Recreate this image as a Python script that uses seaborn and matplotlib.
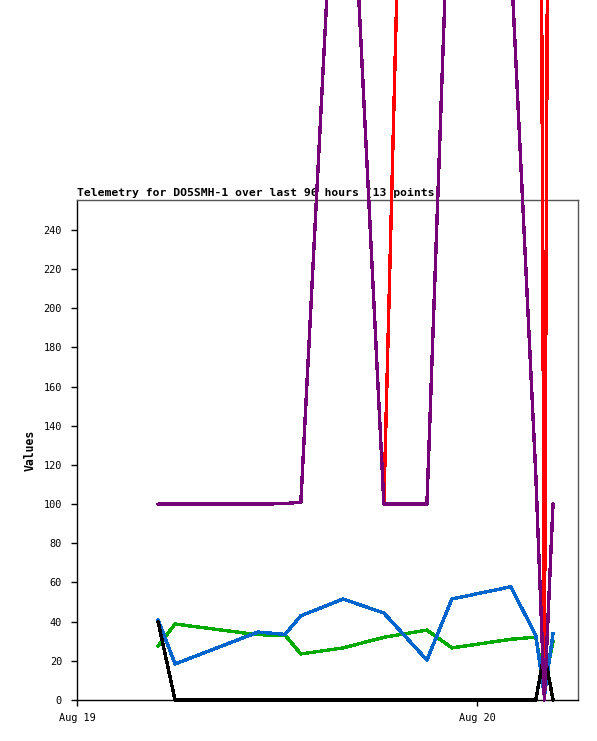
import pandas as pd
import matplotlib
matplotlib.use("Agg")
import matplotlib.pyplot as plt
import matplotlib.dates as mdates
import seaborn as sns
import numpy as np

# sample times (Aug 19 -> Aug 20)
times = ["2024-08-19 04:52", "2024-08-19 05:53", "2024-08-19 10:52",
         "2024-08-19 12:29", "2024-08-19 13:26", "2024-08-19 15:58",
         "2024-08-19 18:25", "2024-08-19 21:00", "2024-08-19 22:30",
         "2024-08-20 02:02", "2024-08-20 03:32", "2024-08-20 04:03",
         "2024-08-20 04:34"]

# series values (NaN = not shown)
green = [27.6, 38.8, 33.3, 33.2, 23.5, 26.6, 32.0, 35.7, 26.6, 31.0, 32.1, 8.0, 30.0]
blue = [41.0, 18.4, 34.7, 33.5, 43.0, 51.6, 44.4, 20.4, 51.6, 57.8, 33.0, 2.0, 34.0]
black = [40.0, 0, 0, 0, 0, 0, 0, 0, 0, 0, 0, 24.0, 0]
red = [np.nan, np.nan, np.nan, np.nan, np.nan, np.nan, 100.0, 970.0, 1000.0, 1000.0, 1100.0, 15.0, 1050.0]
purple = [100.0, 100.0, 100.0, 100.3, 101.0, 520.0, 100.0, 100.0, 460.0, 380.0, 115.0, 0, 100.0]

series = {"green": green, "blue": blue, "black": black, "red": red, "purple": purple}
colors = {"green": "#00aa00", "blue": "#0066cc", "black": "#000000",
          "red": "#ff0000", "purple": "#760078"}

rows = []
for name, vals in series.items():
    for t, v in zip(times, vals):
        rows.append({"time": pd.Timestamp(t), "value": v, "series": name})
df = pd.DataFrame(rows)

sns.set_style("white")
plt.rcParams['font.family'] = ['DejaVu Sans Mono']
plt.rcParams['text.color'] = 'black'
plt.rcParams['axes.labelcolor'] = 'black'
plt.rcParams['xtick.color'] = 'black'
plt.rcParams['ytick.color'] = 'black'

fig = plt.figure(figsize=(5.97, 7.41), dpi=100)
ax = fig.add_axes([77 / 597, 41 / 741, 501 / 597, 500 / 741])

sns.lineplot(data=df, x="time", y="value", hue="series", palette=colors,
             hue_order=list(series.keys()), estimator=None, sort=False,
             linewidth=1.7, legend=False, ax=ax)

for line in ax.lines:
    line.set_clip_on(False)
    line.set_zorder(5)
    line.set_antialiased(False)

ax.set_xlim(pd.Timestamp("2024-08-19 00:00"), pd.Timestamp("2024-08-20 06:04"))
ax.set_ylim(0, 255.3)
ax.set_yticks(range(0, 241, 20))
ax.xaxis.set_major_locator(mdates.DayLocator())
ax.xaxis.set_major_formatter(mdates.DateFormatter("%b %d"))

ax.tick_params(axis="both", which="major", length=4.3, width=1, color="black",
               labelcolor="black", labelsize=7.4, direction="out",
               left=True, bottom=True)
ax.tick_params(axis="y", pad=6.5)
ax.tick_params(axis="x", pad=5)

for s in ["left", "bottom"]:
    ax.spines[s].set_color("black")
for s in ["top", "right"]:
    ax.spines[s].set_color("#555555")
for s in ax.spines.values():
    s.set_linewidth(1)

ax.set_xlabel("")
ax.set_ylabel("Values", fontsize=8.3, fontweight="bold", labelpad=5, color="black")
ax.set_title("Telemetry for DO5SMH-1 over last 96 hours (13 points)",
             loc="left", fontsize=8.2, fontweight="bold", pad=3, color="black")

fig.savefig("out.png", dpi=100, facecolor="white")
